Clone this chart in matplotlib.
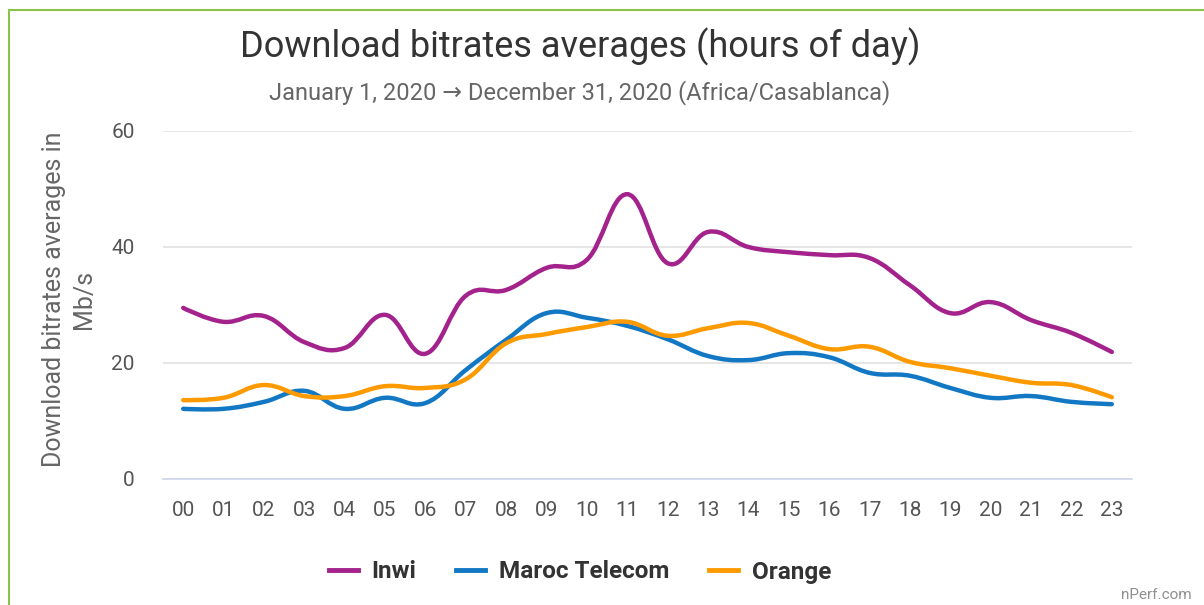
import numpy as np
import matplotlib
matplotlib.use("Agg")
import matplotlib.pyplot as plt
from matplotlib.path import Path
from matplotlib.patches import PathPatch
from matplotlib.lines import Line2D

hours = [f"{h:02d}" for h in range(24)]
inwi = [29.5, 27.1, 28.1, 23.6, 22.6, 28.3, 21.6, 31.6, 32.6, 36.4, 37.8, 49.1,
        37.2, 42.6, 40.0, 39.1, 38.6, 38.1, 33.4, 28.6, 30.5, 27.4, 25.2, 21.9]
maroc = [12.1, 12.1, 13.3, 15.2, 12.1, 14.0, 13.1, 18.8, 24.0, 28.6, 27.8, 26.4,
         24.1, 21.2, 20.5, 21.7, 21.0, 18.3, 17.8, 15.7, 14.0, 14.3, 13.3, 12.9]
orange = [13.6, 14.0, 16.2, 14.3, 14.3, 16.0, 15.7, 17.2, 23.4, 25.0, 26.2, 27.1,
          24.7, 26.0, 26.9, 24.7, 22.4, 22.8, 20.2, 19.1, 17.8, 16.6, 16.2, 14.1]
series = [("Inwi", inwi, "#a3228c"), ("Maroc Telecom", maroc, "#1378c4"),
          ("Orange", orange, "#fd9a00")]

plt.rcParams['font.family'] = ['Roboto', 'DejaVu Sans']

fig = plt.figure(figsize=(12.04, 6.05), dpi=100)
ax = fig.add_axes([163/1204, 1-479/605, (1132-163)/1204, (479-131)/605])

def spline_path(x, y, smoothing=1.5):
    x = np.asarray(x, float); y = np.asarray(y, float)
    verts = [(x[0], y[0])]; codes = [Path.MOVETO]
    n = len(x)
    denom = smoothing + 1

    def ctrl(j):
        if j <= 0 or j >= n - 1:
            return (x[j], y[j]), (x[j], y[j])
        lx = (smoothing * x[j] + x[j-1]) / denom
        ly = (smoothing * y[j] + y[j-1]) / denom
        rx = (smoothing * x[j] + x[j+1]) / denom
        ry = (smoothing * y[j] + y[j+1]) / denom
        if rx != lx:
            corr = ((ry - ly) * (rx - x[j])) / (rx - lx) + y[j] - ry
            ly += corr; ry += corr
        return (lx, ly), (rx, ry)

    for i in range(1, n):
        _, r_prev = ctrl(i - 1)
        l_cur, _ = ctrl(i)
        verts += [r_prev, l_cur, (x[i], y[i])]
        codes += [Path.CURVE4] * 3
    return Path(verts, codes)

xs = np.arange(len(hours))
for name, vals, col in series:
    p = spline_path(xs, vals)
    ax.add_patch(PathPatch(p, facecolor='none', edgecolor=col, lw=3.2,
                           capstyle='round', joinstyle='round', zorder=3))

ax.set_xlim(-0.5, 23.5)
ax.set_ylim(0, 60)
ax.set_yticks([0, 20, 40, 60])
ax.set_xticks(xs)
ax.set_xticklabels(hours)
ax.grid(axis='y', color='#e2e2e2', lw=1.2)
ax.set_axisbelow(True)
for s in ['top', 'right', 'left']:
    ax.spines[s].set_visible(False)
ax.spines['bottom'].set_color('#ccd6eb')
ax.spines['bottom'].set_linewidth(1.2)
ax.tick_params(axis='both', length=0, labelsize=15, colors='#555555')
ax.tick_params(axis='y', pad=20.5)
ax.tick_params(axis='x', pad=15.5)

fig.text(69/1204, 1-299/605, "Download bitrates averages in\nMb/s", rotation=90,
         ha='center', va='center', fontsize=18, color='#666666', linespacing=1.3)

fig.text(580/1204, 1-47/605, "Download bitrates averages (hours of day)",
         ha='center', va='center', fontsize=26, color='#333333')
fig.text(580/1204, 1-93/605, "January 1, 2020 \u2192 December 31, 2020 (Africa/Casablanca)",
         ha='center', va='center', fontsize=17, color='#666666')

handles = [Line2D([0], [0], color=c, lw=3.5) for _, _, c in series]
leg = fig.legend(handles, [n for n, _, _ in series], loc='center',
                 bbox_to_anchor=(580/1204, 1-572/605), ncol=3, frameon=False,
                 prop={'weight': 'bold', 'size': 17.5}, handlelength=1.2,
                 columnspacing=1.65, handletextpad=0.55)
for t in leg.get_texts():
    t.set_color('#333333')

fig.text(1192/1204, 1-595/605, "nPerf.com", ha='right', va='center',
         fontsize=11, color='#909090')

# green frame
fig.add_artist(Line2D([9/1204, 1], [1-10/605, 1-10/605], color='#8bc34a', lw=1.5,
                      transform=fig.transFigure))
fig.add_artist(Line2D([9/1204, 9/1204], [0, 1-10/605], color='#8bc34a', lw=1.5,
                      transform=fig.transFigure))

fig.savefig("out.png", dpi=100, facecolor='white')
